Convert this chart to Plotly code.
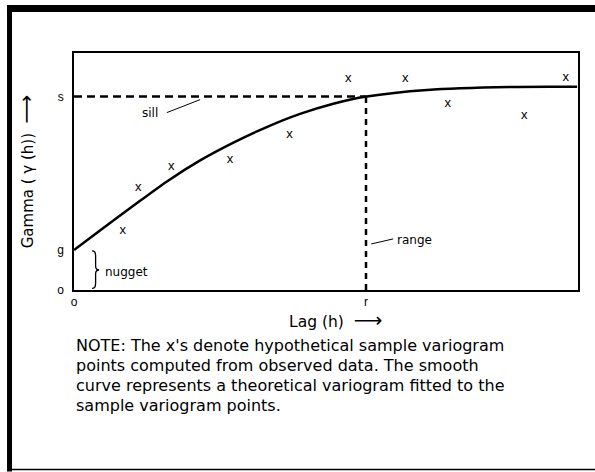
import plotly.graph_objects as go

# key values of the variogram (arbitrary units: sill = 10, range = 10)
nugget = 2.07
sill = 10.0
rng = 10.0
x_max = 17.26
y_max = 12.25

# hypothetical sample variogram points (the x's)
sample_lag = [1.67, 2.20, 3.33, 5.34, 7.38, 9.39, 11.34, 12.80, 15.42, 16.84]
sample_gamma = [3.05, 5.27, 6.37, 6.72, 8.05, 10.90, 10.90, 9.65, 8.99, 10.97]

# fitted theoretical variogram curve
curve_lag = [0.0, 0.89, 2.03, 3.17, 4.32, 5.46, 6.60, 7.74, 8.88, 10.02, 12.09, 14.93, 17.23]
curve_gamma = [nugget, 3.07, 4.35, 5.60, 6.70, 7.62, 8.42, 9.10, 9.63, 10.00, 10.34, 10.49, 10.50]

# tick labels
y_tickvals = [0, nugget, sill]
y_ticktext = ["o", "g", "s"]
x_tickvals = [0, rng]
x_ticktext = ["o", "r"]

note_lines = [
    "NOTE: The x's denote hypothetical sample variogram",
    "points computed from observed data. The smooth",
    "curve represents a theoretical variogram fitted to the",
    "sample variogram points.",
]

font_main = "DejaVu Sans, sans-serif"
font_ticks = "Liberation Sans, Arial, sans-serif"
arrow = '<span style="font-size:20px">\u27f6</span>'

fig = go.Figure()

# sill dashed line
fig.add_trace(go.Scatter(
    x=[0, rng], y=[sill, sill],
    mode="lines",
    line=dict(color="black", width=2.5, dash="8px,5px"),
    showlegend=False, hoverinfo="skip"))

# range dashed line
fig.add_trace(go.Scatter(
    x=[rng, rng], y=[0, sill],
    mode="lines",
    line=dict(color="black", width=2.5, dash="6px,5px"),
    showlegend=False, hoverinfo="skip"))

# theoretical variogram
fig.add_trace(go.Scatter(
    x=curve_lag, y=curve_gamma,
    mode="lines",
    line=dict(color="black", width=2.5, shape="spline", smoothing=0.8),
    name="theoretical variogram", showlegend=False))

# sample points
fig.add_trace(go.Scatter(
    x=sample_lag, y=sample_gamma,
    mode="text",
    text=["x"] * len(sample_lag),
    textposition="middle center",
    textfont=dict(family=font_ticks, size=13, color="black"),
    name="sample variogram", showlegend=False))

# nugget brace
bx0, bx1, bx2 = 0.62, 0.74, 0.86
mid = nugget / 2
brace = (f"M {bx0},0.08 Q {bx1},0.08 {bx1},0.35 L {bx1},{mid - 0.2} "
         f"Q {bx1},{mid} {bx2},{mid} Q {bx1},{mid} {bx1},{mid + 0.2} "
         f"L {bx1},{nugget - 0.3} Q {bx1},{nugget - 0.05} {bx0},{nugget - 0.05}")
fig.add_shape(type="path", path=brace, xref="x", yref="y",
              line=dict(color="black", width=1.3))

# leader lines
fig.add_shape(type="line", xref="x", yref="y", x0=3.18, y0=9.17, x1=4.32, y1=9.84,
              line=dict(color="black", width=1))
fig.add_shape(type="line", xref="x", yref="y", x0=10.18, y0=2.38, x1=10.93, y1=2.64,
              line=dict(color="black", width=1))

# outer frame (left, top, bottom)
fig.add_shape(type="rect", xref="paper", yref="paper", x0=-0.1329, x1=-0.1230, y0=-0.766, y1=1.2025,
              fillcolor="black", line=dict(width=0))
fig.add_shape(type="rect", xref="paper", yref="paper", x0=-0.1329, x1=1.04, y0=1.173, y1=1.2025,
              fillcolor="black", line=dict(width=0))
fig.add_shape(type="line", xref="paper", yref="paper", x0=-0.1329, x1=1.04, y0=-0.757, y1=-0.757,
              line=dict(color="black", width=1.5))

ann_font = dict(family=font_main, size=12, color="black")
fig.add_annotation(x=2.95, y=9.15, xref="x", yref="y", text="sill", showarrow=False,
                   xanchor="right", yanchor="middle", font=ann_font)
fig.add_annotation(x=11.0, y=2.6, xref="x", yref="y", text="range", showarrow=False,
                   xanchor="left", yanchor="middle", font=ann_font)
fig.add_annotation(x=1.0, y=mid - 0.1, xref="x", yref="y", text="nugget", showarrow=False,
                   xanchor="left", yanchor="middle", font=ann_font)

# x axis title, placed a bit right of centre as in the original
fig.add_annotation(x=0.518, y=-0.128, xref="paper", yref="paper", text="Lag (h)  " + arrow,
                   showarrow=False, xanchor="center", yanchor="middle",
                   font=dict(size=15.5, family=font_main, color="black"))

# note below the chart, one annotation per line
for i, line in enumerate(note_lines):
    fig.add_annotation(x=0.0, y=(290 - 345 - 20 * i) / 237, xref="paper", yref="paper",
                       text=line, showarrow=False, xanchor="left", yanchor="middle", align="left",
                       font=dict(family=font_main, size=16, color="black"))

fig.update_layout(
    width=595, height=472,
    margin=dict(l=74, r=17, t=53, b=182),
    paper_bgcolor="white", plot_bgcolor="white",
    font=dict(family=font_main, color="black"),
    xaxis=dict(
        range=[0, x_max], showgrid=False, zeroline=False,
        showline=True, mirror=True, linecolor="black", linewidth=1.5,
        tickvals=x_tickvals, ticktext=x_ticktext, ticks="",
        ticklabelstandoff=0,
        tickfont=dict(size=12, family=font_ticks),
    ),
    yaxis=dict(
        range=[0, y_max], showgrid=False, zeroline=False,
        showline=True, mirror=True, linecolor="black", linewidth=1.5,
        tickvals=y_tickvals, ticktext=y_ticktext, ticks="",
        ticklabelstandoff=6,
        tickfont=dict(size=12, family=font_ticks),
        title=dict(text="Gamma ( \u03b3 (h))  " + arrow, font=dict(size=15, family=font_main), standoff=20),
    ),
)

fig.write_html("out.html", config={"displayModeBar": False},
               post_script="document.body.style.margin='0px';")
